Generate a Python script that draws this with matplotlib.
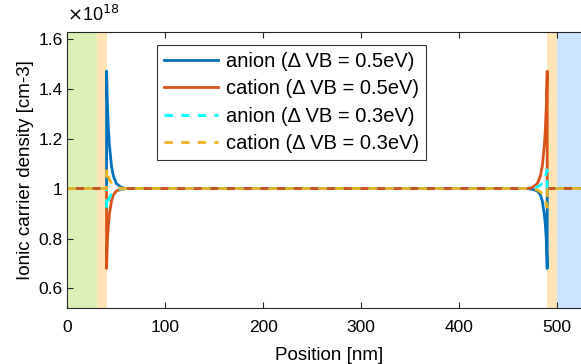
#!/usr/bin/env python3
"""Ionic carrier density across the device for two valence band offsets."""

import matplotlib

matplotlib.use("Agg")
import matplotlib.pyplot as plt
from matplotlib.ticker import FixedLocator, FuncFormatter

plt.rcParams["font.family"] = ["Liberation Sans", "DejaVu Sans"]

# position grid [nm] (vertical jumps at the perovskite interfaces)
position = [0, 40, 40, 41, 42, 43, 45, 47, 50, 55, 60, 70,
            470, 475, 480, 483, 485, 487, 488, 489, 490, 490, 530]

# densities in units of 1e18 cm-3
anion_05 = [1, 1, 1.47, 1.32, 1.23, 1.17, 1.09, 1.05, 1.02, 1.005, 1.0, 1.0,
            1.0, 0.997, 0.99, 0.975, 0.95, 0.90, 0.86, 0.80, 0.68, 1, 1]
cation_05 = [1, 1, 0.68, 0.80, 0.86, 0.90, 0.95, 0.975, 0.99, 0.997, 1.0, 1.0,
             1.0, 1.005, 1.02, 1.05, 1.09, 1.17, 1.23, 1.32, 1.47, 1, 1]
anion_03 = [1, 1, 0.92, 0.94, 0.955, 0.965, 0.978, 0.987, 0.994, 0.999, 1.0, 1.0,
            1.0, 1.001, 1.006, 1.013, 1.022, 1.035, 1.045, 1.06, 1.075, 1, 1]
cation_03 = [1, 1, 1.08, 1.06, 1.045, 1.035, 1.022, 1.013, 1.006, 1.001, 1.0, 1.0,
             1.0, 0.999, 0.994, 0.987, 0.978, 0.965, 0.955, 0.94, 0.925, 1, 1]

# layer boundaries [nm]
htl_end = 30
left_interface = 40
right_interface = 490
etl_start = 500

fig = plt.figure(figsize=(5.81, 3.64), dpi=100)
# right edge of the axes sits just past the figure edge, as in the original
ax = fig.add_axes([0.116, 0.154, 0.9, 0.759])

ax.axvspan(0, htl_end, color="#daf0b4", lw=0)
ax.axvspan(htl_end, left_interface, color="#ffe4b5", lw=0)
ax.axvspan(right_interface, etl_start, color="#ffe4b5", lw=0)
ax.axvspan(etl_start, 600, color="#cce4ff", lw=0)

ax.plot(position, anion_05, color="#0072bd", lw=2.0, label="anion (Δ VB = 0.5eV)")
ax.plot(position, cation_05, color="#d95319", lw=2.0, label="cation (Δ VB = 0.5eV)")
ax.plot(position, anion_03, color="#00ffff", lw=2.0, ls=(0, (3, 3)),
        label="anion (Δ VB = 0.3eV)")
ax.plot(position, cation_03, color="#edb120", lw=2.0, ls=(0, (3, 3)),
        label="cation (Δ VB = 0.3eV)")

ax.set_xlim(0, 534)
ax.set_ylim(0.522, 1.628)
ax.xaxis.set_major_locator(FixedLocator([0, 100, 200, 300, 400, 500]))
ax.yaxis.set_major_locator(FixedLocator([0.6, 0.8, 1.0, 1.2, 1.4, 1.6]))
ax.yaxis.set_major_formatter(FuncFormatter(lambda v, _: f"{v:g}"))
ax.tick_params(direction="in", top=True, right=True, labelsize=12.5,
               length=4, width=0.8, colors="#262626", labelcolor="black")
ax.tick_params(axis="x", pad=8.5)
for spine in ax.spines.values():
    spine.set_color("#262626")
    spine.set_linewidth(0.8)

ax.set_xlabel("Position [nm]", fontsize=13.5, labelpad=9)
ax.set_ylabel("Ionic carrier density [cm-3]", fontsize=13.5, labelpad=3)
fig.text(0.116, 0.93, r"$\times$10$^{18}$", fontsize=13, ha="left", va="bottom")

leg = ax.legend(loc="upper left", bbox_to_anchor=(0.171, 0.952), fontsize=14.5,
                frameon=True, fancybox=False, edgecolor="black",
                handlelength=2.7, handletextpad=0.4, labelspacing=0.42,
                borderpad=0.35, borderaxespad=0)
leg.get_frame().set_linewidth(0.8)

fig.savefig("out.png", dpi=100)
